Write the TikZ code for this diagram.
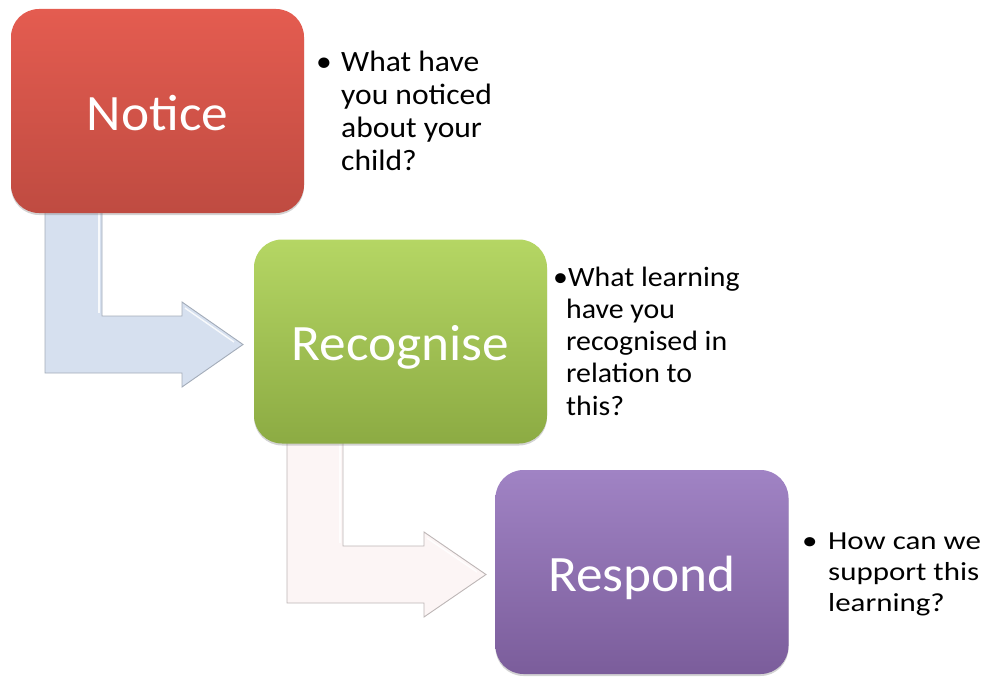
\documentclass[tikz,border=0pt]{standalone}
\usepackage{fontspec}
\setmainfont{Carlito}
\newfontfamily\boxfont[FakeStretch=1.045]{Carlito}
\newfontfamily\noteAfont[FakeStretch=1.07]{Carlito}
\newfontfamily\noteBfont[FakeStretch=1.066]{Carlito}
\newfontfamily\noteCfont[FakeStretch=1.19]{Carlito}
\usetikzlibrary{shadows}
\definecolor{redtop}{HTML}{E45C50}
\definecolor{redbot}{HTML}{BF4B41}
\definecolor{greentop}{HTML}{B5D664}
\definecolor{greenbot}{HTML}{8CAB43}
\definecolor{purpletop}{HTML}{A083C4}
\definecolor{purplebot}{HTML}{7B5D9B}
\definecolor{bluefill}{HTML}{D6E0EF}
\definecolor{blueedge}{HTML}{A3ACB9}
\definecolor{pinkfill}{HTML}{FCF5F5}
\definecolor{pinkedge}{HTML}{BDB6B6}
\begin{document}
\begin{tikzpicture}[x=1pt,y=-1pt,
  stepbox/.style={minimum width=293pt, minimum height=204pt, rounded corners=28pt,
    text=white, font=\boxfont\fontsize{51}{60}\selectfont, inner sep=0pt,
    drop shadow={opacity=0.35, shadow xshift=0pt, shadow yshift=-2pt}},
  bendarrow/.style={line width=0.9pt, line join=miter},
  bevel/.style={white, line width=1.4pt, opacity=0.85},
  note/.style={anchor=base west, inner sep=0pt, text=black, align=left},
  boxlabel/.style={text=white, font=\boxfont\fontsize{51}{60}\selectfont, inner sep=0pt, anchor=base}
]
\useasboundingbox (0,0) rectangle (988,677);

% bent arrows (behind boxes)
\draw[bendarrow, fill=bluefill, draw=blueedge]
  (45,205) -- (102,205) -- (102,316) -- (182,316) -- (182,302) -- (243,344.5)
  -- (182,387) -- (182,373) -- (45,373) -- cycle;
\draw[bevel] (99,212) -- (99,313);
\draw[bevel] (185,308) -- (234,342);
\draw[bendarrow, fill=pinkfill, draw=pinkedge]
  (287,435) -- (343,435) -- (343,546) -- (424,546) -- (424,532) -- (486,574.5)
  -- (424,617) -- (424,603) -- (287,603) -- cycle;
\draw[bevel] (340,444) -- (340,543);
\draw[bevel] (427,538) -- (477,572);

% boxes
\node[stepbox, top color=redtop, bottom color=redbot] (notice) at (157.5,111) {};
\node[stepbox, top color=greentop, bottom color=greenbot] (recog) at (400.5,341.5) {};
\node[stepbox, top color=purpletop, bottom color=purplebot] (respond) at (642,572) {};
\node[boxlabel] (noticelabel) at ([yshift=-19pt]notice.center) {Notice};
\node[boxlabel] (recoglabel) at ([yshift=-19pt]recog.center) {Recognise};
\node[boxlabel] (respondlabel) at ([yshift=-19pt]respond.center) {Respond};

% notes
\node[note, font=\noteAfont\fontsize{29.5}{33.3}\selectfont] (n1) at (316,71)
  {\begin{tabular}[t]{@{}p{25pt}@{}l@{}}•&What have\\ &you noticed\\ &about your\\ &child?\end{tabular}};
\node[note, font=\noteBfont\fontsize{28}{32.3}\selectfont] (n2) at (553,286)
  {\begin{tabular}[t]{@{}p{13pt}@{}l@{}}\multicolumn{2}{@{}l@{}}{•What learning}\\ &have you\\ &recognised in\\ &relation to\\ &this?\end{tabular}};
\node[note, font=\noteCfont\fontsize{26}{31}\selectfont] (n3) at (802,549)
  {\begin{tabular}[t]{@{}p{26pt}@{}l@{}}•&How can we\\ &support this\\ &learning?\end{tabular}};
\end{tikzpicture}
\end{document}
